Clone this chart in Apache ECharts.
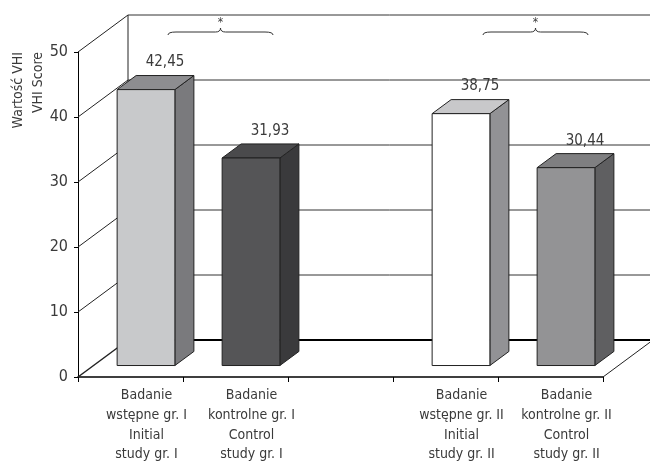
<!DOCTYPE html>
<html>
<head>
<meta charset="utf-8">
<script src="https://cdn.jsdelivr.net/npm/echarts@6/dist/echarts.min.js"></script>
<style>
  html, body { margin: 0; padding: 0; background: #fff; }
  #chart { width: 650px; height: 465px; }
</style>
</head>
<body>
<div id="chart"></div>
<script>
// Categories along the front edge (the middle slot is an empty gap between groups)
const categories = [
  'Badanie\nwstępne gr. I\nInitial\nstudy gr. I',
  'Badanie\nkontrolne gr. I\nControl\nstudy gr. I',
  '',
  'Badanie\nwstępne gr. II\nInitial\nstudy gr. II',
  'Badanie\nkontrolne gr. II\nControl\nstudy gr. II'
];
// Which category slot each bar sits in, and its VHI score
const barSlots = [0, 1, 3, 4];
const vhiScores = [42.45, 31.93, 38.75, 30.44];
// Value-axis ticks
const yTicks = [0, 10, 20, 30, 40, 50];
// Significance brackets: pairs of bar indices
const brackets = [[0, 1], [2, 3]];
const bracketMark = '*';
const yTitle = 'Wartość VHI\nVHI Score';

// 3D look: oblique depth of the floor / back wall
const DEPTH_X = 50, DEPTH_Y = -37;
const BAR_FRONT = 0.31, BAR_DEPTH = 0.38, BAR_WIDTH = 0.55;
const FONT = "'DejaVu Sans Condensed', 'Liberation Sans', sans-serif";
const TEXT = '#3a3a3a';
// front / top / side shades for each bar
const shades = [
  ['#c8c9cb', '#8d8d90', '#7a7a7d'],
  ['#555557', '#4a4a4c', '#3a3a3c'],
  ['#ffffff', '#c8c8ca', '#929295'],
  ['#939395', '#7f7f81', '#5f5f61']
];
const EDGE = '#222';

const fmt = v => v.toFixed(2).replace('.', ',');

function barGeom(api, slot, v) {
  const base = api.coord([slot, 0]);
  const top = api.coord([slot, v]);
  const band = api.size([1, 0])[0];
  const w = band * BAR_WIDTH;
  const x0 = base[0] - w / 2 + DEPTH_X * BAR_FRONT;
  const x1 = x0 + w;
  const yb = base[1] + DEPTH_Y * BAR_FRONT;
  const yt = top[1] + DEPTH_Y * BAR_FRONT;
  const bx = DEPTH_X * BAR_DEPTH, by = DEPTH_Y * BAR_DEPTH;
  return { x0, x1, yb, yt, bx, by, w };
}

const chart = echarts.init(document.getElementById('chart'));

const barData = barSlots.map((s, i) => [s, vhiScores[i], i]);

chart.setOption({
  animation: false,
  grid: { left: 78, right: 47, top: 52, bottom: 88 },
  xAxis: {
    type: 'category',
    data: categories,
    boundaryGap: true,
    axisLine: { lineStyle: { color: '#000', width: 1.5 } },
    axisTick: { show: true, length: 5, lineStyle: { color: '#000' } },
    axisLabel: {
      interval: 0,
      color: TEXT,
      fontFamily: FONT,
      fontSize: 14,
      lineHeight: 19.6,
      margin: 9,
      padding: [0, 0, 0, 32]
    }
  },
  yAxis: {
    type: 'value',
    min: 0, max: 50, interval: 10,
    axisLine: { show: true, lineStyle: { color: '#000', width: 1 } },
    axisTick: { show: true, length: 4, lineStyle: { color: '#000' } },
    splitLine: { show: false },
    axisLabel: { color: TEXT, fontFamily: FONT, fontSize: 16, margin: 10 }
  },
  graphic: [{
    type: 'text',
    x: 28, y: 52,
    rotation: Math.PI / 2,
    style: {
      text: yTitle,
      fill: TEXT,
      font: '14px ' + FONT,
      align: 'right',
      verticalAlign: 'middle',
      lineHeight: 20
    }
  }],
  series: [
    {
      // back wall, side diagonals and floor outline
      type: 'custom',
      clip: false,
      z: 1,
      data: yTicks.map(v => [0, v]),
      renderItem(params, api) {
        const v = api.value(1);
        const cs = params.coordSys;
        const p = api.coord([0, v]);
        const left = cs.x, right = cs.x + cs.width;
        const y = p[1];
        const isFloor = v === yTicks[0];
        const children = [
          { type: 'line', shape: { x1: left, y1: y, x2: left + DEPTH_X, y2: y + DEPTH_Y },
            style: { stroke: '#222', lineWidth: isFloor ? 1.5 : 1 } },
          { type: 'line', shape: { x1: left + DEPTH_X, y1: y + DEPTH_Y, x2: right + DEPTH_X, y2: y + DEPTH_Y },
            style: { stroke: isFloor ? '#000' : '#333', lineWidth: isFloor ? 2 : 1 } }
        ];
        if (isFloor) {
          children.push({ type: 'line', shape: { x1: right, y1: y, x2: right + DEPTH_X, y2: y + DEPTH_Y },
            style: { stroke: '#222', lineWidth: 1 } });
          children.push({ type: 'line', shape: { x1: left + DEPTH_X, y1: cs.y + DEPTH_Y, x2: left + DEPTH_X, y2: y + DEPTH_Y },
            style: { stroke: '#222', lineWidth: 1 } });
        }
        return { type: 'group', children };
      }
    },
    {
      // 3D bars with value labels
      type: 'custom',
      clip: false,
      z: 3,
      data: barData,
      renderItem(params, api) {
        const slot = api.value(0), v = api.value(1), idx = api.value(2);
        const g = barGeom(api, slot, v);
        const c = shades[idx];
        const st = fill => ({ fill, stroke: EDGE, lineWidth: 1, lineJoin: 'round' });
        return {
          type: 'group',
          children: [
            { type: 'polygon', shape: { points: [[g.x1, g.yb], [g.x1 + g.bx, g.yb + g.by], [g.x1 + g.bx, g.yt + g.by], [g.x1, g.yt]] }, style: st(c[2]) },
            { type: 'polygon', shape: { points: [[g.x0, g.yt], [g.x1, g.yt], [g.x1 + g.bx, g.yt + g.by], [g.x0 + g.bx, g.yt + g.by]] }, style: st(c[1]) },
            { type: 'polygon', shape: { points: [[g.x0, g.yb], [g.x1, g.yb], [g.x1, g.yt], [g.x0, g.yt]] }, style: st(c[0]) },
            { type: 'text', x: g.x0 + g.w / 2 + g.bx, y: g.yt + g.by - 13,
              style: { text: fmt(v), fill: TEXT, font: '15px ' + FONT, align: 'center', verticalAlign: 'middle' } }
          ]
        };
      }
    },
    {
      // significance brackets above the bar pairs
      type: 'custom',
      clip: false,
      z: 3,
      data: brackets.map(b => [b[0], b[1]]),
      renderItem(params, api) {
        const a = api.value(0), b = api.value(1);
        const ga = barGeom(api, barSlots[a], 0);
        const gb = barGeom(api, barSlots[b], 0);
        const xa = ga.x0 + ga.w / 2 + ga.bx + 3;
        const xb = gb.x0 + gb.w / 2 + gb.bx + 3;
        const yTop = api.coord([0, yTicks[yTicks.length - 1]])[1] + DEPTH_Y;
        const y = yTop + 17;
        const xm = (xa + xb) / 2;
        const path = `M${xa},${y + 3} Q${xa},${y} ${xa + 8},${y} L${xm - 5},${y} Q${xm},${y} ${xm},${y - 4} ` +
                     `Q${xm},${y} ${xm + 5},${y} L${xb - 8},${y} Q${xb},${y} ${xb},${y + 3}`;
        return {
          type: 'group',
          children: [
            { type: 'path', shape: { pathData: path }, style: { fill: null, stroke: '#333', lineWidth: 1 } },
            { type: 'text', x: xm, y: y - 9,
              style: { text: bracketMark, fill: TEXT, font: '12px ' + FONT, align: 'center', verticalAlign: 'middle' } }
          ]
        };
      }
    }
  ]
});
</script>
</body>
</html>
